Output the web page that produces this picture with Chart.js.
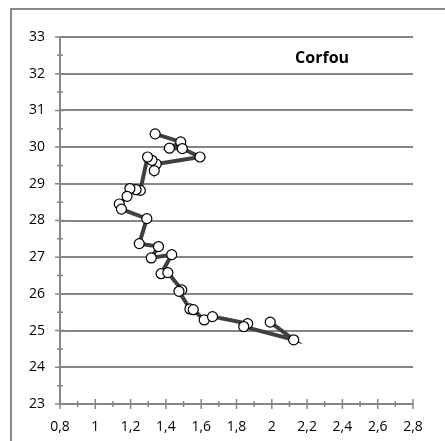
<!DOCTYPE html>
<html>
<head>
<meta charset="utf-8">
<script src="https://cdn.jsdelivr.net/npm/chart.js@4.4.1/dist/chart.umd.min.js"></script>
<style>
  html, body { margin: 0; padding: 0; background: #fff; overflow: hidden; }
  #wrap { position: relative; width: 445px; height: 441px; }
  #frame { position: absolute; left: 10px; top: 8px; width: 500px; height: 500px;
           border: 2px solid #898989; box-sizing: border-box; }
  canvas { position: absolute; left: 0; top: 0; }
</style>
</head>
<body>
<div id="wrap">
  <div id="frame"></div>
  <canvas id="c" width="445" height="441"></canvas>
</div>
<script>
// ---- data ----
const chartTitle = 'Corfou';
const xValues = [1.339, 1.484, 1.420, 1.493, 1.593, 1.345, 1.334, 1.321, 1.296, 1.255, 1.231, 1.196, 1.180, 1.136, 1.148, 1.292, 1.249, 1.358, 1.317, 1.433, 1.373, 1.411, 1.490, 1.474, 1.536, 1.555, 1.617, 1.664, 1.863, 1.841, 2.124, 1.991];
const yValues = [30.36, 30.14, 29.97, 29.96, 29.73, 29.54, 29.36, 29.64, 29.73, 28.82, 28.84, 28.87, 28.66, 28.45, 28.31, 28.05, 27.37, 27.29, 26.98, 27.07, 26.55, 26.58, 26.11, 26.07, 25.59, 25.57, 25.29, 25.38, 25.19, 25.11, 24.75, 25.23];
const xTicks = [0.8, 1.0, 1.2, 1.4, 1.6, 1.8, 2.0, 2.2, 2.4, 2.6, 2.8];
const xTickLabels = ['0,8', '1', '1,2', '1,4', '1,6', '1,8', '2', '2,2', '2,4', '2,6', '2,8'];
const yTicks = [23, 24, 25, 26, 27, 28, 29, 30, 31, 32, 33];
const yTickLabels = ['23', '24', '25', '26', '27', '28', '29', '30', '31', '32', '33'];

const points = xValues.map((x, i) => ({ x: x, y: yValues[i] }));
const AXIS_COLOR = '#868686';
const FONT = '"Open Sans", Lato, sans-serif';

const axisPlugin = {
  id: 'axisPlugin',
  beforeDatasetsDraw(chart) {
    const ctx = chart.ctx;
    const xs = chart.scales.x, ys = chart.scales.y;
    const left = xs.left, right = xs.right, top = ys.top, bottom = ys.bottom;
    ctx.save();
    ctx.strokeStyle = AXIS_COLOR;
    ctx.lineWidth = 2;
    ctx.beginPath();
    ctx.moveTo(left, top); ctx.lineTo(left, bottom);
    ctx.moveTo(left, bottom); ctx.lineTo(right, bottom);
    ctx.stroke();
    ctx.lineWidth = 1.5;
    ctx.beginPath();
    xTicks.forEach((v, i) => {
      const px = xs.getPixelForValue(v);
      ctx.moveTo(px, bottom - 5); ctx.lineTo(px, bottom + 5);
      if (i < xTicks.length - 1) {
        const mx = xs.getPixelForValue((v + xTicks[i + 1]) / 2);
        ctx.moveTo(mx, bottom - 3); ctx.lineTo(mx, bottom + 3);
      }
    });
    yTicks.forEach((v, i) => {
      const py = ys.getPixelForValue(v);
      ctx.moveTo(left - 5, py); ctx.lineTo(left + 5, py);
      if (i < yTicks.length - 1) {
        const my = ys.getPixelForValue((v + yTicks[i + 1]) / 2);
        ctx.moveTo(left - 3, my); ctx.lineTo(left + 3, my);
      }
    });
    ctx.stroke();
    ctx.restore();
  },
  afterDraw(chart) {
    const ctx = chart.ctx;
    const xs = chart.scales.x, ys = chart.scales.y;
    ctx.save();
    ctx.fillStyle = '#000';
    ctx.font = 'bold 16px ' + FONT;
    ctx.textAlign = 'center';
    ctx.textBaseline = 'alphabetic';
    ctx.fillText(chartTitle, xs.getPixelForValue(2.285), ys.getPixelForValue(32.3));
    ctx.restore();
  }
};

new Chart(document.getElementById('c'), {
  type: 'scatter',
  data: {
    datasets: [{
      data: points,
      showLine: true,
      borderColor: '#404040',
      borderWidth: 4,
      pointRadius: 5,
      pointHoverRadius: 5,
      pointBackgroundColor: '#ffffff',
      pointBorderColor: '#000000',
      pointBorderWidth: 1.2,
      tension: 0
    }]
  },
  options: {
    responsive: false,
    animation: false,
    events: [],
    layout: { padding: { top: 37, right: 32, left: 0, bottom: 0 } },
    plugins: { legend: { display: false }, tooltip: { enabled: false }, title: { display: false } },
    scales: {
      x: {
        type: 'linear', min: 0.8, max: 2.8,
        afterBuildTicks: s => { s.ticks = xTicks.map(v => ({ value: v })); },
        afterFit: s => { s.height = 37; },
        grid: { display: false },
        border: { display: false },
        ticks: {
          autoSkip: false, maxRotation: 0, padding: 7, color: '#000',
          font: { family: FONT, size: 14 },
          callback: (v, i) => xTickLabels[i]
        }
      },
      y: {
        type: 'linear', min: 23, max: 33,
        afterBuildTicks: s => { s.ticks = yTicks.map(v => ({ value: v })); },
        afterFit: s => { s.width = 60; },
        grid: { color: AXIS_COLOR, lineWidth: 2, drawTicks: false },
        border: { display: false },
        ticks: {
          autoSkip: false, padding: 15, color: '#000',
          font: { family: FONT, size: 14 },
          callback: (v, i) => yTickLabels[i]
        }
      }
    }
  },
  plugins: [axisPlugin]
});
</script>
</body>
</html>
